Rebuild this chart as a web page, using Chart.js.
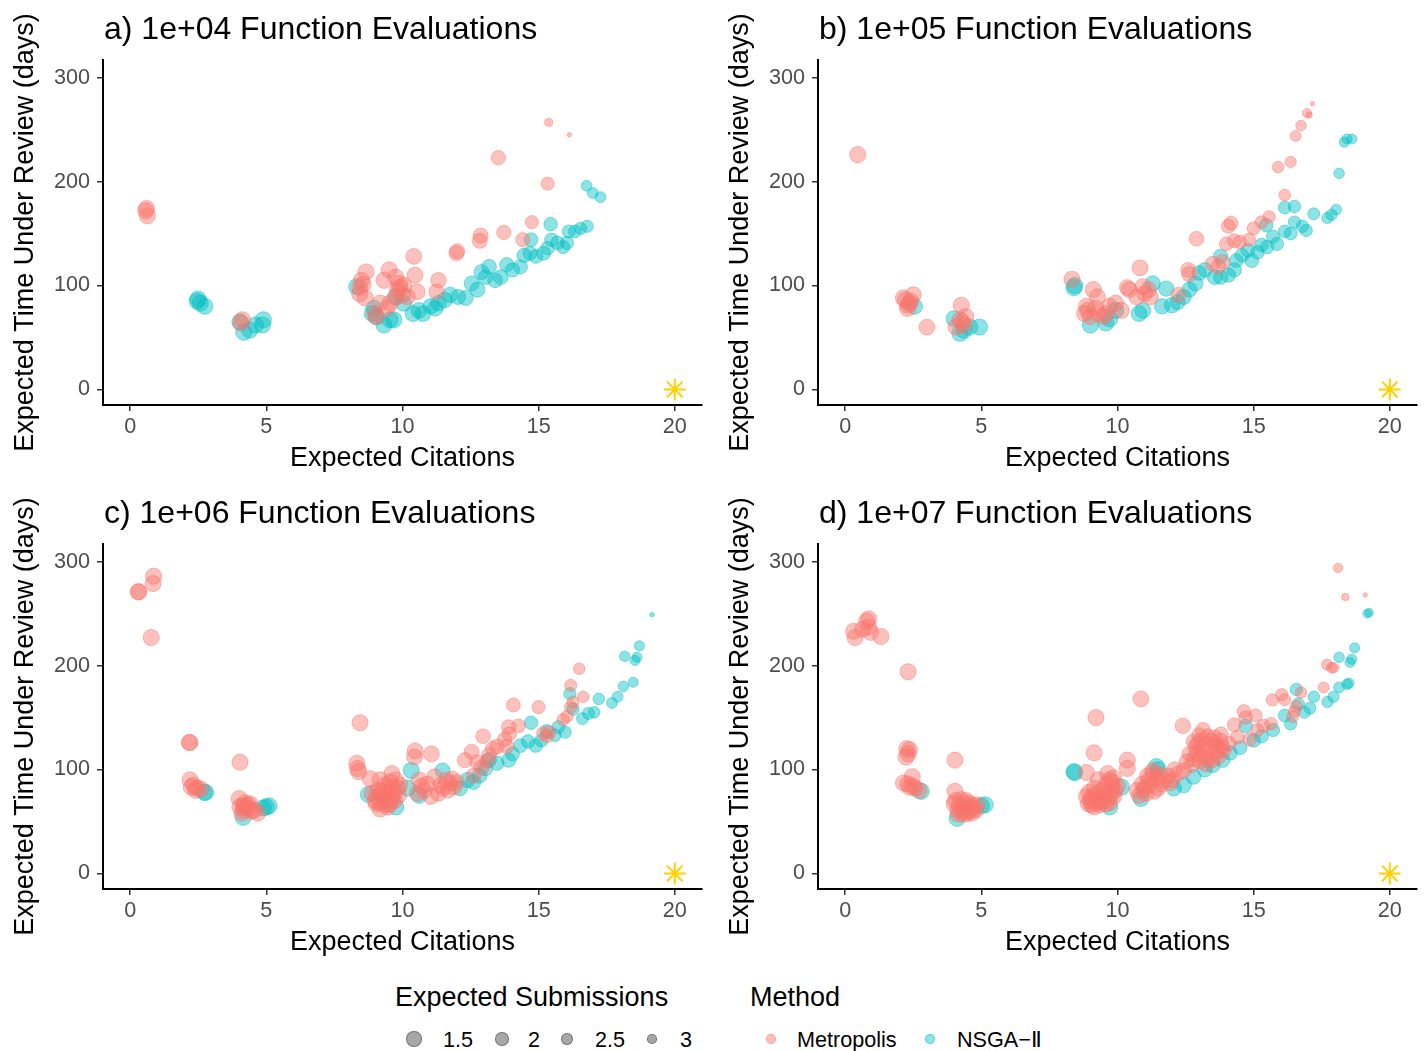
<!DOCTYPE html>
<html>
<head>
<meta charset="utf-8">
<script src="https://cdn.jsdelivr.net/npm/chart.js@4.4.1/dist/chart.umd.min.js"></script>
<style>
  body { margin: 0; background: #fff; }
  #wrap { position: relative; width: 1424px; height: 1051px; font-family: "Liberation Sans", Arial, sans-serif; }
  canvas { position: absolute; }
  .ptitle { position: absolute; font-size: 32px; line-height: 32px; color: #000; white-space: nowrap; }
  .ltitle { position: absolute; font-size: 27px; line-height: 27px; color: #000; white-space: nowrap; }
  .llabel { position: absolute; font-size: 21.6px; line-height: 21.6px; color: #000; white-space: nowrap; }
  .dot { position: absolute; border-radius: 50%; box-sizing: border-box; }
</style>
</head>
<body>
<div id="wrap"></div>
<script>
// tick labels
const xTicks = [0, 5, 10, 15, 20];
const yTicks = [0, 100, 200, 300];
const panelTitles = [
  'a) 1e+04 Function Evaluations',
  'b) 1e+05 Function Evaluations',
  'c) 1e+06 Function Evaluations',
  'd) 1e+07 Function Evaluations'
];
const methods = ['Metropolis', 'NSGA\u2212\u2161'];
const sizeBreaks = [1.5, 2, 2.5, 3];
const idealPoint = [20, 0];

// each point: [expected citations, expected days under review, expected submissions]
const metA = [
  [0.6,174,1],[0.57,172,1],[0.63,167,1],
  [4.12,67,1],[4.06,64,1],
  [8.66,113,1],[8.49,105,1],[8.43,98,1],[8.55,101,1],[8.63,88,1],[8.43,92,1],
  [9.51,115,1],[9.32,105,1],[9.75,108,1],[9.89,102,1],[9.82,96,1],[10.0,91,1],[9.75,89,1],[9.54,83,1],
  [9.18,83,1],[9.44,78,1],[8.98,73,1],[9.04,70,1],[9.9,98,1],[10.05,100,1],
  [10.41,128,1.1],[10.46,110,1.1],[10.54,94,1.1],[10.18,89,1.1],
  [11.32,105,1.2],[11.25,94,1.2],
  [12.01,133,1.3],[11.98,131,1.3],
  [12.87,148,1.3],[12.84,143,1.3],
  [13.72,151,1.5],[13.52,223,1.5],[14.42,144,1.5],[14.75,161,1.8],
  [15.33,198,1.8],[15.37,257,3.1],[16.13,245,4.1]
];
const nsgaA = [
  [2.46,85,1],[2.57,83,1],[2.74,80,1],[2.49,87,1],
  [4.17,55,1],[4.39,57,1],[4.6,62,1],[4.89,67,1],[4.86,62,1],[4.03,65,1],
  [8.32,99,1],[8.89,73,1],[9.04,70,1],[9.32,62,1],[9.54,67,1],[9.68,67,1],[9.75,89,1],[10.04,83,1],[8.95,78,1],
  [10.39,73,1.1],[10.75,73,1.1],[10.6,76,1.1],[11.04,80,1.2],[11.32,83,1.2],[11.2,78,1.2],[11.75,91,1.2],
  [11.55,86,1.2],[12.04,89,1.3],[12.32,88,1.3],[12.54,102,1.3],[12.75,96,1.3],[12.9,113,1.3],[13.18,118,1.4],
  [13.05,108,1.4],[13.4,105,1.4],[13.61,108,1.4],[13.83,120,1.5],[14.04,115,1.5],[14.33,118,1.5],[14.47,129,1.5],
  [14.68,131,1.6],[14.9,128,1.6],[15.18,131,1.6],[15.33,136,1.7],[15.47,144,1.7],[15.69,141,1.7],[15.9,137,1.8],
  [16.04,141,1.8],[16.11,152,1.8],[16.33,152,1.9],[16.54,155,2.0],[16.78,157,2.0],[15.44,159,1.7],[14.72,144,1.6],
  [16.76,196,2.4],[16.99,189,2.4],[17.27,185,2.4]
];
const metB = [
  [0.46,226,1],
  [2.14,88,1],[2.36,83,1],[2.5,91,1],[2.29,78,1],[2.21,86,1],[2.4,85,1],[2.3,81,1],
  [3.0,60,1.1],
  [4.26,81,1],[4.21,67,1],[4.36,62,1],[4.07,60,1],[4.43,70,1],[4.3,65,1],
  [8.33,106,1],[9.11,96,1],[9.26,89,1],[8.86,80,1],[8.79,73,1],[9.0,70,1],[9.29,73,1],[9.5,70,1],[9.71,80,1],
  [9.93,83,1],[10.14,76,1],[9.57,73,1],[8.9,76,1],[9.2,78,1],
  [10.36,98,1.1],[10.43,96,1.1],[10.83,117,1.1],[10.71,89,1.1],[11.0,92,1.1],[11.14,96,1.1],[11.21,89,1.1],[10.93,99,1.1],
  [12.24,91,1.3],[12.63,111,1.3],[12.6,115,1.3],[12.9,145,1.4],
  [13.5,121,1.4],[13.71,118,1.4],[13.86,123,1.5],
  [14.0,140,1.6],[14.17,160,1.6],[14.07,157,1.6],[14.29,143,1.6],[14.5,142,1.7],[14.83,144,1.8],
  [15.0,155,1.8],[15.29,161,1.9],[15.57,166,2.0],
  [16.14,187,2.2],[15.9,214,2.2],[16.36,219,2.3],
  [16.54,244,2.4],[16.74,254,2.5],[16.96,266,2.9],[17.04,264,3.6],[17.16,275,4.1]
];
const nsgaB = [
  [2.54,80,1],
  [4.0,68,1],[4.21,54,1],[4.36,57,1],[4.93,60,1],[4.57,60,1],
  [8.4,98,1],[8.43,100,1],
  [9.0,62,1],[9.57,64,1],[9.71,68,1],[9.93,76,1],
  [10.79,73,1.1],[10.93,76,1.1],[11.29,102,1.2],[11.64,80,1.2],[11.79,97,1.2],[12.0,81,1.2],[12.21,84,1.3],
  [12.43,89,1.3],[12.64,96,1.3],[12.86,102,1.3],[13.0,112,1.4],[13.21,115,1.4],[13.57,108,1.4],[13.79,128,1.5],
  [13.79,108,1.5],[14.07,110,1.5],[14.29,115,1.5],[14.36,124,1.6],[14.57,129,1.6],[14.79,134,1.6],[14.93,124,1.6],
  [15.14,132,1.7],[15.29,139,1.7],[15.5,137,1.7],[15.71,147,1.8],[15.86,140,1.8],[16.14,152,1.9],[16.36,150,1.9],
  [16.5,161,2.0],[16.79,157,2.0],[16.93,153,2.0],[17.21,169,2.1],[17.71,165,2.3],[17.86,168,2.3],[18.03,173,2.4],
  [16.14,175,1.9],[16.5,176,2.0],[15.46,158,1.7],
  [18.14,208,2.5],[18.33,238,2.6],[18.43,241,2.6],[18.61,241,2.6]
];
const metC = [
  [0.31,271,1],[0.3,271,1],[0.86,286,1],[0.84,279,1],[0.77,227,1],
  [2.17,126,1],[2.19,126,1],
  [2.2,90,1],[2.32,85,1],[2.46,82,1],[2.24,83,1],[2.6,81,1],[2.4,80,1],
  [4.03,107,1],
  [4.0,72,1],[4.03,64,1],[4.17,61,1],[4.32,66,1],[4.46,60,1],[4.68,58,1],[4.1,58,1],[4.2,68,1],[4.35,62,1],[4.15,65,1],
  [4.25,64,1],[4.4,67,1],[4.55,61,1],
  [8.44,145,1],
  [8.32,106,1],[8.39,98,1],[8.35,101,1],[8.82,91,1],[8.89,77,1],[9.04,67,1],[9.18,62,1],[9.32,74,1],[9.46,83,1],
  [9.54,67,1],[9.68,77,1],[9.75,90,1],[9.82,82,1],[9.18,90,1],[9.61,96,1],[9.29,70,1],[9.06,74,1],[9.46,64,1],
  [9.0,70,1],[9.1,80,1],[9.4,71,1],[9.6,72,1],[9.85,75,1],[9.2,76,1],[9.35,85,1],[9.5,78,1],[9.7,70,1],
  [9.9,85,1],[9.15,68,1],[9.25,79,1],[9.55,88,1],[9.38,66,1],[9.65,82,1],
  [10.46,118,1.1],[10.44,112,1.1],[11.06,115,1.1],
  [10.61,90,1.1],[10.54,77,1.1],[10.9,86,1.1],[11.18,93,1.1],[11.32,77,1.1],[11.61,90,1.2],[11.82,91,1.2],
  [11.68,80,1.2],[11.89,83,1.2],[11.04,74,1.1],[10.8,80,1.1],[11.4,85,1.1],[12.0,88,1.2],[10.7,84,1.1],
  [11.5,82,1.1],[11.75,87,1.2],
  [12.29,109,1.3],[12.54,117,1.3],[12.96,132,1.4],[12.75,107,1.3],[13.18,114,1.4],[13.32,120,1.4],[13.47,122,1.4],
  [13.83,122,1.5],[13.75,129,1.5],[13.9,141,1.5],[14.07,162,1.6],[14.26,142,1.6],[13.92,134,1.5],[12.61,94,1.3],
  [12.9,102,1.3],[13.1,108,1.4],
  [15.0,160,1.8],[15.17,135,1.8],[15.4,136,1.8],[15.3,132,1.8],
  [15.9,148,2.0],[16.04,151,2.0],[16.18,160,2.0],[16.26,165,2.1],[16.18,181,2.1],[16.49,197,2.2],[16.64,170,2.2]
];
const nsgaC = [
  [2.72,78,1],[2.77,78,1],
  [4.15,54,1],[4.89,63,1],[5.1,65,1],[5.0,64,1],
  [8.75,76,1],[9.75,64,1],[10.18,82,1],[10.32,99,1],[10.61,75,1.1],
  [11.47,99,1.3],[12.11,82,1.3],[12.39,90,1.3],[12.6,88,1.3],[12.83,94,1.4],[13.04,101,1.4],[13.18,109,1.4],
  [13.47,106,1.5],[13.9,109,1.5],[14.04,115,1.6],[14.33,123,1.6],[14.61,127,1.7],[14.72,145,1.7],[14.89,123,1.7],
  [15.1,128,1.8],[15.3,137,1.8],[15.59,133,1.9],[15.73,141,1.9],[15.97,136,2.0],[16.15,173,2.0],[16.26,158,2.0],
  [16.61,149,2.1],[16.83,154,2.1],[17.04,155,2.2],[17.21,168,2.2],[17.69,164,2.4],[17.9,170,2.4],[18.11,180,2.5],
  [18.47,184,2.6],[18.16,209,2.5],[18.54,205,2.6],[18.61,208,2.6],[18.7,219,2.6],[19.16,249,4.1]
];
const metD = [
  [0.31,233,1],[0.36,227,1],[0.79,243,1],[0.86,245,1],[0.93,232,1],[0.86,237,1],[1.31,228,1],[0.64,235,1],
  [2.31,194,1],
  [2.26,120,1],[2.31,115,1],[2.36,119,1],[2.23,112,1],
  [2.14,87,1],[2.46,93,1],[2.57,82,1],[2.71,80,1],[2.36,83,1],[2.3,86,1],[2.5,84,1],
  [4.03,109,1],
  [4.03,79,1],[4.0,67,1],[4.14,61,1],[4.43,64,1],[4.64,63,1],[4.79,61,1],[4.29,58,1],[4.57,67,1],[4.05,70,1],
  [4.2,65,1],[4.3,62,1],[4.35,68,1],[4.5,59,1],[4.6,60,1],[4.7,65,1],[4.15,57,1],[4.4,57,1],[4.25,71,1],[4.85,66,1],
  [4.45,70,1],[4.65,58,1],
  [9.14,116,1],[9.21,150,1],
  [8.86,97,1],[8.86,74,1],[8.93,67,1],[9.14,64,1],[9.29,71,1],[9.57,77,1],[9.71,90,1],[9.79,83,1],[9.57,67,1],
  [9.86,74,1],[9.21,77,1],[9.64,96,1],[9.0,70,1],[9.05,66,1],[9.1,74,1],[9.35,66,1],[9.4,75,1],[9.5,70,1],
  [9.7,68,1],[9.9,80,1],[10.0,84,1],[9.25,68,1],[8.95,78,1],[9.8,88,1],[9.15,82,1],[9.45,80,1],[9.6,86,1],
  [9.75,76,1],[9.3,90,1],[9.05,72,1],[9.42,69,1],[9.68,73,1],[9.85,92,1],
  [10.36,109,1],[10.36,101,1],[10.86,168,1.1],
  [10.71,80,1.1],[11.0,83,1.1],[11.14,90,1.1],[11.29,96,1.1],[11.5,82,1.1],[11.71,90,1.1],[11.93,87,1.2],
  [12.21,96,1.2],[12.43,99,1.2],[12.4,142,1.2],[10.8,75,1.1],[10.9,86,1.1],[11.05,77,1.1],[11.2,85,1.1],
  [11.35,79,1.1],[11.45,92,1.1],[11.6,86,1.1],[11.85,94,1.2],[12.0,90,1.2],[12.1,100,1.2],[11.3,99,1.1],
  [10.95,80,1.1],[11.1,94,1.1],[11.55,95,1.1],
  [12.64,115,1.3],[12.86,122,1.3],[13.07,128,1.3],[13.14,138,1.3],[13.29,125,1.3],[13.57,131,1.4],[13.64,116,1.4],
  [13.79,128,1.4],[13.86,122,1.4],[13.5,109,1.4],[13.0,108,1.3],[12.79,110,1.3],[12.7,104,1.3],[12.9,116,1.3],
  [13.1,120,1.3],[13.2,112,1.3],[13.4,118,1.4],[13.3,132,1.3],[13.55,124,1.4],[13.7,112,1.4],[13.9,118,1.4],
  [13.0,133,1.3],[12.55,108,1.3],[13.25,105,1.3],[13.45,128,1.4],[13.65,124,1.4],[13.8,134,1.4],[12.8,127,1.3],
  [13.05,114,1.3],[13.35,110,1.3],[13.75,119,1.4],[12.95,125,1.3],
  [14.29,143,1.6],[14.64,156,1.7],[14.71,150,1.7],[15.07,152,1.8],[14.86,129,1.7],[15.14,138,1.8],[15.36,142,1.8],
  [15.64,144,1.9],[14.1,125,1.5],[14.4,131,1.6],
  [15.69,167,2.0],[16.03,172,2.0],[16.14,167,2.1],[16.43,151,2.1],[16.5,156,2.1],[16.74,174,2.2],[16.57,161,2.1],
  [17.57,179,2.4],[17.69,201,2.4],[17.86,198,2.5],[17.94,198,2.5],
  [18.1,294,2.8],[18.37,266,3.3],[19.1,268,4.1]
];
const nsgaD = [
  [2.79,79,1],
  [4.11,53,1],[5.14,66,1],[5.0,65,1],
  [8.4,98,1],[8.43,97,1],
  [9.71,64,1],[10.14,83,1],
  [10.86,72,1.1],[11.43,103,1.1],[11.5,100,1.1],[12.07,82,1.2],[12.43,85,1.2],[12.79,93,1.3],[13.2,100,1.3],[13.5,104,1.4],
  [13.86,109,1.4],[14.14,116,1.5],[14.5,121,1.6],[14.71,142,1.6],[15.0,128,1.7],[15.29,132,1.7],[15.71,138,1.8],
  [16.14,152,1.9],[16.36,144,2.0],[16.57,177,2.0],[16.64,163,2.0],[16.86,155,2.1],[17.07,159,2.1],[17.21,170,2.2],
  [17.71,165,2.3],[17.93,170,2.3],[18.14,179,2.4],[18.43,182,2.5],[18.5,183,2.5],[18.14,208,2.5],[18.54,203,2.6],
  [18.6,206,2.6],[18.71,217,2.6],[19.17,250,3.0],[19.24,251,3.0]
];

const metroColor = 'rgba(248,118,109,0.45)';
const nsgaColor = 'rgba(0,191,196,0.45)';
const starColor = '#FFD000';
const tickGray = '#4D4D4D';

// bigger circle = fewer expected submissions
function radius(s) { return Math.max(1.5, 10 - 1.9 * s); }

Chart.defaults.font.family = '"Liberation Sans", Arial, sans-serif';

const wrap = document.getElementById('wrap');

// panel boxes: left, top, width, height, right padding
const panels = [
  { met: metA, nsga: nsgaA, left: 0,   top: 0,   w: 712, h: 485, pr: 10 },
  { met: metB, nsga: nsgaB, left: 715, top: 0,   w: 709, h: 485, pr: 7 },
  { met: metC, nsga: nsgaC, left: 0,   top: 484, w: 712, h: 485, pr: 10 },
  { met: metD, nsga: nsgaD, left: 715, top: 484, w: 709, h: 485, pr: 7 }
];

function toPts(arr) { return arr.map(p => ({ x: p[0], y: p[1], s: p[2] })); }

panels.forEach((p, i) => {
  const cv = document.createElement('canvas');
  cv.width = p.w; cv.height = p.h;
  cv.style.left = p.left + 'px'; cv.style.top = p.top + 'px';
  wrap.appendChild(cv);

  const t = document.createElement('div');
  t.className = 'ptitle';
  t.textContent = panelTitles[i];
  t.style.left = (p.left + 104) + 'px';
  t.style.top = (p.top + 12) + 'px';
  wrap.appendChild(t);

  const pointSet = (label, arr, color) => ({
    label: label,
    data: toPts(arr),
    backgroundColor: color,
    borderColor: color,
    borderWidth: 1,
    pointRadius: ctx => radius(ctx.raw.s),
    pointHoverRadius: ctx => radius(ctx.raw.s)
  });

  new Chart(cv, {
    type: 'scatter',
    data: {
      datasets: [
        pointSet(methods[0], p.met, metroColor),
        pointSet(methods[1], p.nsga, nsgaColor),
        {
          label: 'ideal',
          data: [{ x: idealPoint[0], y: idealPoint[1] }],
          pointStyle: 'star',
          pointRadius: 11,
          borderColor: starColor,
          backgroundColor: starColor,
          borderWidth: 2
        }
      ]
    },
    options: {
      responsive: false,
      animation: false,
      layout: { autoPadding: false, padding: { top: 60, right: p.pr, left: 0, bottom: 0 } },
      plugins: { legend: { display: false }, tooltip: { enabled: false } },
      scales: {
        x: {
          type: 'linear', min: -1, max: 21,
          afterBuildTicks: s => { s.ticks = xTicks.map(v => ({ value: v })); },
          afterFit: s => { s.height = 80; s.paddingLeft = 0; s.paddingRight = 0; },
          ticks: { color: tickGray, font: { size: 21.6 }, padding: 3 },
          grid: { display: true, drawOnChartArea: false, drawTicks: true, tickLength: 6, color: '#333333', lineWidth: 1.5 },
          border: { display: true, color: '#000', width: 2 },
          title: { display: true, text: 'Expected Citations', color: '#000', font: { size: 27 }, padding: { top: 0, bottom: 10 } }
        },
        y: {
          type: 'linear', min: -15, max: 317,
          afterBuildTicks: s => { s.ticks = yTicks.map(v => ({ value: v })); },
          afterFit: s => { s.width = 103; s.paddingTop = 0; s.paddingBottom = 0; },
          ticks: { color: tickGray, font: { size: 21.6 }, padding: 7 },
          grid: { display: true, drawOnChartArea: false, drawTicks: true, tickLength: 6, color: '#333333', lineWidth: 1.5 },
          border: { display: true, color: '#000', width: 2 },
          title: { display: true, text: 'Expected Time Under Review (days)', color: '#000', font: { size: 27 }, padding: { top: 9, bottom: 0 } }
        }
      }
    }
  });
});

// legend
function addText(cls, text, left, top) {
  const d = document.createElement('div');
  d.className = cls; d.textContent = text;
  d.style.left = left + 'px'; d.style.top = top + 'px';
  wrap.appendChild(d);
}
function addDot(cx, cy, r, fill, stroke) {
  const d = document.createElement('div');
  d.className = 'dot';
  const dd = 2 * r + 1;
  d.style.width = dd + 'px'; d.style.height = dd + 'px';
  d.style.left = (cx - dd / 2) + 'px'; d.style.top = (cy - dd / 2) + 'px';
  d.style.background = fill; d.style.border = '1px solid ' + stroke;
  wrap.appendChild(d);
}
addText('ltitle', 'Expected Submissions', 395, 984);
const sizeDotX = [414, 502, 567, 652];
const sizeLabelX = [443, 528, 595, 680];
sizeBreaks.forEach((s, i) => {
  addDot(sizeDotX[i], 1039, radius(s), 'rgba(80,80,85,0.5)', 'rgba(60,60,65,0.45)');
  addText('llabel', String(s), sizeLabelX[i], 1029);
});
addText('ltitle', 'Method', 750, 984);
addDot(771, 1039, 4.5, metroColor, metroColor);
addText('llabel', methods[0], 797, 1029);
addDot(930, 1039, 4.5, nsgaColor, nsgaColor);
addText('llabel', methods[1], 957, 1029);
</script>
</body>
</html>
